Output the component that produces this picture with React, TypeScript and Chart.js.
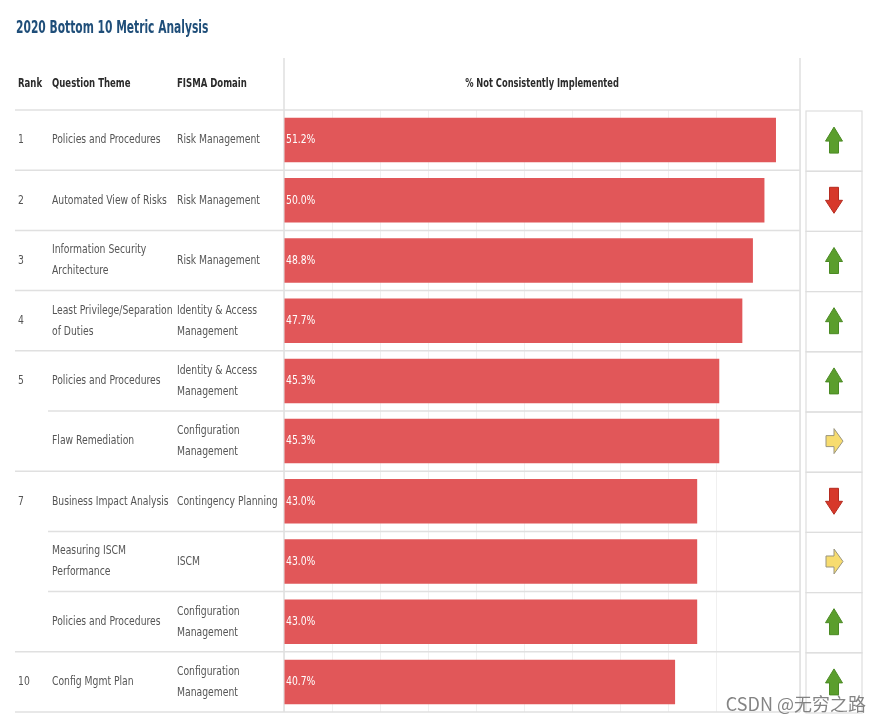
import React, { useEffect, useRef } from "react";
import { Chart, registerables } from "chart.js";

Chart.register(...registerables);

const title = "2020 Bottom 10 Metric Analysis";
const headers = ["Rank", "Question Theme", "FISMA Domain", "% Not Consistently Implemented"];
const ranks = ["1", "2", "3", "4", "5", "", "7", "", "", "10"];
const themes = [
  "Policies and Procedures",
  "Automated View of Risks",
  "Information Security\nArchitecture",
  "Least Privilege/Separation\nof Duties",
  "Policies and Procedures",
  "Flaw Remediation",
  "Business Impact Analysis",
  "Measuring ISCM\nPerformance",
  "Policies and Procedures",
  "Config Mgmt Plan",
];
const domains = [
  "Risk Management",
  "Risk Management",
  "Risk Management",
  "Identity & Access\nManagement",
  "Identity & Access\nManagement",
  "Configuration\nManagement",
  "Contingency Planning",
  "ISCM",
  "Configuration\nManagement",
  "Configuration\nManagement",
];
const values = [51.2, 50.0, 48.8, 47.7, 45.3, 45.3, 43.0, 43.0, 43.0, 40.7];
const trends = ["up", "down", "up", "up", "up", "right", "down", "right", "up", "up"];
const watermark = "CSDN @无穷之路";

const FONT = '"DejaVu Sans Condensed", "DejaVu Sans", sans-serif';

function drawText(ctx: any, s: string, x: number, y: number, sx: number, align: string = "left") {
  ctx.save();
  ctx.translate(x, y);
  ctx.scale(sx, 1);
  ctx.textAlign = align;
  ctx.fillText(s, 0, 0);
  ctx.restore();
}

const tablePlugin = {
  id: "tablePlugin",
  beforeDatasetsDraw(chart: any) {
    const ctx = chart.ctx;
    const area = chart.chartArea;
    const y = chart.scales.y;
    const n = values.length;
    const rowH = (area.bottom - area.top) / n;
    ctx.save();
    ctx.textBaseline = "middle";
    // title
    ctx.fillStyle = "#1f4e79";
    ctx.font = `bold 17px ${FONT}`;
    drawText(ctx, title, 16, 29, 0.7);
    // headers
    ctx.fillStyle = "#2b2b2b";
    ctx.font = `bold 13px ${FONT}`;
    drawText(ctx, headers[0], 18, 84, 0.73);
    drawText(ctx, headers[1], 52, 84, 0.73);
    drawText(ctx, headers[2], 177, 84, 0.73);
    drawText(ctx, headers[3], (area.left + area.right) / 2, 84, 0.71, "center");
    // lines
    ctx.strokeStyle = "#e0e0e0";
    ctx.lineWidth = 1.5;
    const hline = (x0: number, x1: number, yy: number) => {
      ctx.beginPath();
      ctx.moveTo(x0, yy);
      ctx.lineTo(x1, yy);
      ctx.stroke();
    };
    hline(15, area.right, area.top);
    for (let i = 0; i < n; i++) {
      const bottom = y.getPixelForValue(i) + rowH / 2;
      const full = i === n - 1 || ranks[i + 1] !== "";
      hline(full ? 15 : 48, area.right, bottom);
    }
    ctx.beginPath();
    ctx.moveTo(area.left, 58);
    ctx.lineTo(area.left, area.bottom);
    ctx.moveTo(area.right, 58);
    ctx.lineTo(area.right, area.bottom);
    ctx.stroke();
    // arrow boxes
    const bx0 = area.right + 6;
    const bx1 = area.right + 62;
    ctx.strokeStyle = "#dedede";
    ctx.lineWidth = 1.2;
    for (let i = 0; i < n; i++) {
      const c = y.getPixelForValue(i);
      ctx.strokeRect(bx0, c - rowH / 2 + 1, bx1 - bx0, rowH);
    }
    // text
    ctx.fillStyle = "#555";
    ctx.font = `13px ${FONT}`;
    const drawMulti = (s: string, x: number, c: number) => {
      const lines = s.split("\n");
      const lh = 21;
      lines.forEach((ln, k) => {
        drawText(ctx, ln, x, c + (k - (lines.length - 1) / 2) * lh, 0.79);
      });
    };
    for (let i = 0; i < n; i++) {
      const c = y.getPixelForValue(i);
      drawText(ctx, ranks[i], 18, c, 0.79);
      drawMulti(themes[i], 52, c);
      drawMulti(domains[i], 177, c);
    }
    // arrows
    const cx = (bx0 + bx1) / 2;
    for (let i = 0; i < n; i++) {
      const c = y.getPixelForValue(i);
      ctx.beginPath();
      const t = trends[i];
      if (t === "up") {
        ctx.moveTo(cx, c - 13);
        ctx.lineTo(cx + 8.5, c + 1);
        ctx.lineTo(cx + 4.5, c + 1);
        ctx.lineTo(cx + 4.5, c + 13);
        ctx.lineTo(cx - 4.5, c + 13);
        ctx.lineTo(cx - 4.5, c + 1);
        ctx.lineTo(cx - 8.5, c + 1);
        ctx.closePath();
        ctx.fillStyle = "#5b9e2d";
        ctx.strokeStyle = "#4b8a24";
      } else if (t === "down") {
        ctx.moveTo(cx, c + 13);
        ctx.lineTo(cx + 8.5, c);
        ctx.lineTo(cx + 4.5, c);
        ctx.lineTo(cx + 4.5, c - 13);
        ctx.lineTo(cx - 4.5, c - 13);
        ctx.lineTo(cx - 4.5, c);
        ctx.lineTo(cx - 8.5, c);
        ctx.closePath();
        ctx.fillStyle = "#d7382a";
        ctx.strokeStyle = "#b52c20";
      } else {
        ctx.moveTo(cx + 9, c);
        ctx.lineTo(cx, c - 12.5);
        ctx.lineTo(cx, c - 5.5);
        ctx.lineTo(cx - 8, c - 5.5);
        ctx.lineTo(cx - 8, c + 5.5);
        ctx.lineTo(cx, c + 5.5);
        ctx.lineTo(cx, c + 12.5);
        ctx.closePath();
        ctx.fillStyle = "#f7dc6f";
        ctx.strokeStyle = "#9a9580";
      }
      ctx.lineWidth = 1;
      ctx.fill();
      ctx.stroke();
    }
    ctx.restore();
  },
  afterDatasetsDraw(chart: any) {
    const ctx = chart.ctx;
    const meta = chart.getDatasetMeta(0);
    const x0 = chart.scales.x.getPixelForValue(0);
    ctx.save();
    ctx.fillStyle = "#ffffff";
    ctx.font = `13px ${FONT}`;
    ctx.textBaseline = "middle";
    meta.data.forEach((bar: any, i: number) => {
      drawText(ctx, values[i].toFixed(1) + "%", x0 + 2, bar.y, 0.79);
    });
    // watermark
    ctx.fillStyle = "rgba(110,110,110,0.85)";
    ctx.font = `18px "Noto Sans CJK SC", sans-serif`;
    ctx.textAlign = "right";
    ctx.fillText(watermark, 866, 704);
    ctx.restore();
  },
};

export default function App() {
  const ref = useRef<HTMLCanvasElement>(null);
  useEffect(() => {
    if (!ref.current) return;
    const chart = new Chart(ref.current, {
      type: "bar",
      data: {
        labels: themes.map((t) => t.replace("\n", " ")),
        datasets: [
          {
            data: values,
            backgroundColor: "#e15759",
            borderWidth: 0,
            barPercentage: 0.74,
            categoryPercentage: 1,
          },
        ],
      },
      options: {
        indexAxis: "y",
        responsive: false,
        animation: false,
        layout: { padding: { left: 284, right: 81, top: 110, bottom: 9 } },
        plugins: { legend: { display: false }, tooltip: { enabled: false } },
        scales: {
          x: {
            min: 0,
            max: 53.7,
            ticks: { display: false, stepSize: 5 },
            grid: { color: "#f0f0f0", drawTicks: false, lineWidth: 1 },
            border: { display: false },
          },
          y: { display: false },
        },
      },
      plugins: [tablePlugin],
    });
    return () => chart.destroy();
  }, []);
  return (
    <div style={{ position: "absolute", left: 0, top: 0, width: 881, height: 721, background: "#fff" }}>
      <canvas ref={ref} width={881} height={721} />
    </div>
  );
}
